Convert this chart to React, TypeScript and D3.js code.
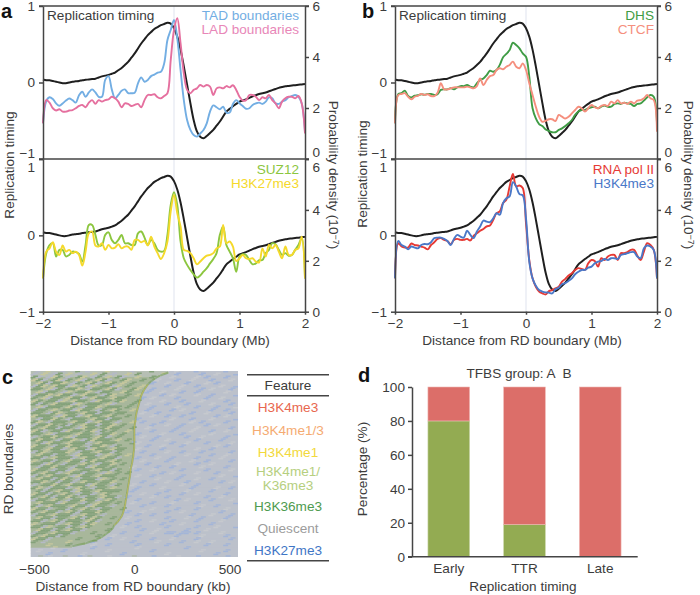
import React, { useEffect, useRef } from "react";
import * as d3 from "d3";

// distance grid for all profile curves, Mb
const distanceMb = d3.range(81).map(i => -2 + i * 0.05);

const replicationTiming = [0.04,0.03,0.03,0.02,0.01,0,-0.01,-0.01,0,0.01,0.015,0.02,0.03,0.035,0.04,0.045,0.05,0.065,0.08,0.09,0.1,0.115,0.13,0.16,0.19,0.23,0.27,0.325,0.38,0.445,0.51,0.565,0.62,0.66,0.7,0.725,0.75,0.765,0.78,0.77,0.71,0.6,0.43,0.21,-0.03,-0.27,-0.49,-0.64,-0.71,-0.73,-0.7,-0.66,-0.62,-0.565,-0.51,-0.445,-0.38,-0.345,-0.31,-0.28,-0.25,-0.235,-0.22,-0.2,-0.18,-0.165,-0.15,-0.14,-0.13,-0.115,-0.1,-0.085,-0.07,-0.06,-0.05,-0.045,-0.04,-0.035,-0.03,-0.025,-0.02];

const tadBoundaries = [1.4,2.27,2.42,2.35,2.18,2.09,2.18,2.29,2.37,2.31,2.21,2.5,2.64,2.44,2.61,2.73,2.61,2.44,2.44,3.1,3.25,2.73,2.38,2.51,2.68,2.73,2.58,2.58,2.6,2.97,3.2,3.03,3.1,3.25,3.31,3.39,3.42,3.75,4.67,5.06,5.45,4.73,3.49,2.31,1.53,1.14,0.94,0.88,1,1.14,1.4,1.86,2.1,2.03,1.95,2.05,1.82,1.82,2.16,2.31,2.18,2.08,1.97,1.99,2.12,2.18,2.21,2.16,2.25,2.42,2.38,2.18,2.16,2.25,2.31,2.42,2.47,2.51,2.44,2.18,1.07];
const ladBoundaries = [1.4,2.31,2.21,1.99,1.9,1.95,1.86,1.86,1.9,1.92,1.99,2.08,2.12,2.03,2.21,2.31,2.16,2.31,2.25,2.31,2.34,2.44,2.38,2.25,2.03,2.18,2.16,2.08,2.12,2.16,2.03,2.31,2.51,2.51,2.54,2.42,2.38,2.47,2.58,3.88,5.06,5.52,4.54,3.36,2.71,2.58,2.71,2.77,2.9,2.84,2.9,2.84,2.51,2.77,2.81,2.77,2.86,2.81,2.89,2.71,2.44,2.29,2.31,2.51,2.51,2.44,2.31,2.42,2.38,2.51,2.31,2.18,1.99,2.25,2.38,2.44,2.44,2.38,2.47,2.18,1];
const suz12 = [1.31,2.3,2.62,2.69,2.17,2.43,2.43,2.17,2.23,2.36,2.34,2.27,1.97,2.62,3.41,3.41,3.02,2.6,2.62,3.02,3.12,2.82,2.69,2.82,3.02,2.69,2.69,2.62,2.62,3.08,3.15,2.91,2.62,2.82,2.69,2.43,2.36,2.39,3.02,4.2,4.7,4.2,2.76,2.1,1.84,1.64,1.47,1.34,1.42,1.57,1.71,1.9,2.07,2.3,3.02,3.35,2.62,2.36,2.1,1.57,2.17,2.26,2.23,2.03,1.86,1.9,2.03,2.03,2.3,2.43,2.69,2.65,2.43,2.23,2.3,2.2,2.23,2.43,2.62,2.89,1.31];
const h3k27me3 = [1.31,2.36,2.49,2.73,2.36,2.23,2.6,2.36,2.43,2.3,2.36,2.23,1.81,2.36,3.08,3.15,2.6,2.56,2.69,2.43,2.62,2.49,2.52,2.65,2.49,2.56,2.56,2.43,2.82,2.82,2.73,2.78,2.6,2.95,2.56,2.3,2.07,2.3,2.76,3.94,4.59,3.87,3.35,2.43,2.39,2.3,2.1,1.86,1.97,2.1,2.2,2.23,2.3,2.49,2.56,3.41,2.69,2.76,2.56,1.99,2.1,2.23,2.1,2.07,2.1,1.97,1.94,2.49,2.17,2.62,2.49,2.62,2.36,2.1,2.56,2.23,2.23,2.43,2.49,2.95,1.31];
const dhs = [1.4,2.54,2.58,2.68,2.47,2.41,2.48,2.5,2.54,2.52,2.55,2.55,2.51,2.54,2.71,2.73,2.73,2.78,2.73,2.81,2.86,2.86,2.9,2.84,2.81,2.97,3.1,3.16,3.29,3.46,3.42,3.49,3.69,3.99,4.12,4.27,4.56,4.47,4.34,4.14,4.01,3.23,1.99,1.59,1.37,1.29,1.16,1.1,1.05,1.05,1.14,1.2,1.29,1.4,1.53,1.73,1.86,1.92,1.92,1.99,2.03,2.05,1.99,2.05,2.1,2.05,2.05,2.16,2.18,2.16,2.21,2.18,2.16,2.08,2.16,2.18,2.29,2.42,2.51,2.44,1.4];
const ctcf = [1.4,2.51,2.55,2.58,2.44,2.34,2.44,2.48,2.55,2.51,2.54,2.47,2.47,2.6,2.97,2.73,2.73,2.77,2.81,2.81,2.81,2.81,2.84,2.81,2.77,2.86,3.16,2.9,3.1,3.25,3.29,3.49,3.56,3.52,3.62,3.69,3.82,3.62,3.56,3.75,3.49,2.97,2.51,2.05,1.66,1.46,1.5,1.56,1.56,1.49,1.73,1.66,1.59,1.66,1.79,1.92,2.05,1.99,1.86,1.99,2.12,2.03,1.99,2.08,2.12,2.08,2.25,2.18,2.31,2.18,2.21,2.16,2.25,2.18,2.29,2.31,2.38,2.51,2.38,2.31,1.07];
const rnaPol2 = [1.31,2.69,2.56,2.52,2.52,2.68,2.62,2.6,2.56,2.52,2.45,2.62,2.73,2.86,2.89,2.82,2.78,2.65,2.82,2.86,2.82,2.82,2.86,2.8,2.98,3.08,3.18,3.25,3.35,3.39,3.61,3.87,3.94,4.27,4.4,4.92,5.41,4.92,4.96,4.86,3.48,2.03,1.31,0.98,0.79,0.72,0.68,0.81,0.85,0.92,0.98,1.18,1.29,1.42,1.51,1.64,1.71,1.68,1.64,1.9,2.03,1.99,1.77,2.1,2.03,2.17,2.23,2.23,2.03,2.3,2.3,2.34,2.43,2.43,2.2,2.03,2.36,2.69,2.62,2.43,1.31];
const h3k4me3 = [1.31,2.78,2.62,2.56,2.45,2.56,2.52,2.49,2.62,2.66,2.65,2.73,2.89,2.91,2.91,2.86,2.78,2.62,2.86,3.02,2.95,2.91,3.18,3.02,2.89,3.15,3.35,3.58,3.54,3.52,3.67,3.87,3.81,4.27,4.46,4.53,5.09,4.92,4.62,4.57,3.67,1.97,1.31,1.02,0.85,0.79,0.76,0.75,0.72,0.88,0.94,1.08,1.12,1.21,1.31,1.47,1.57,1.64,1.64,1.73,1.77,1.9,1.97,1.99,2.07,2.03,2.1,2.1,2.07,2.23,2.26,2.3,2.34,2.34,2.17,2.1,2.49,2.6,2.56,2.43,1.31];

// panel c: where the early domain ends on each row, kb
const boundaryKb = [165,125,100,80,65,55,45,38,32,28,24,20,16,12,9,7,5,3,1,0,0,0,0,0,-1,-1,-2,-4,-5,-8,-10,-13,-17,-19,-20,-22,-25,-27,-30,-32,-34,-37,-39,-42,-44,-47,-51,-55,-61,-71,-82,-97,-104,-118,-138,-158,-190,-235,-300,-500,-500,-500];
const stateRows = [
  "030200300103000200003000100002000100000100",
  "302031020300201030020100002001000010020001",
  "130321030120310201300200100020000201000100",
  "213012310231021300120010020001002000100020",
  "021311203102130210201000100200010002010000",
  "312021132013201132010020000100200100002001",
  "110231011203110213001200100002000010200010",
  "023110320112031100210001002000100100000200",
  "311202113021103120010200001020000200100001",
  "102311021130211021100010200001000001002000",
  "210113202110321101200100002000100020000100",
  "131021113201110230001002000100010000200010",
  "023111021031120111010000100002000100010002",
  "311020113211031021002001000010200000100100",
  "110312011021131101100020010000001002000010",
  "211103211302110210010000200100100000010200",
  "031121031110211311000100000020001000200001",
  "120311102113021103002010001000002010000100",
  "311210131021131120100000100200100001020000",
  "102113110321101211001002000001000200000010",
  "213011321101231010020000100010002000100200",
  "110231110211031120100100002000100000200001",
  "301121023111021301000020010000010020000100",
  "121103112031211102010000100200000100001000",
  "013211021113021110001200000010020001000020",
  "211031121103112031000001002000100000020100",
  "110211302113211021100200001000000200100000",
  "312011120311021131000010000200100010000010",
  "021131103211130201020000100000020000100200",
  "113021113021102113000100020010000100002000",
  "201131021131211021000020000100002001000010",
  "113210311021031120100001000002000100200000",
  "031121103113211010002000010010000020000100",
  "211031132011021131000100200000100001000020",
  "102113021131103201010000001020000200010000",
  "310211103211021110000200100000100000002001",
  "021131210311132010100000020001000200100000",
  "112013113021101120000010000200010000001020",
  "301121021113211031002000100000200100000000",
  "120311130210311020000100002000001000020010",
  "013102113211021111001000000100020000100000",
  "211310210311302100000020010000100200000100",
  "102131121031102113010000200100000001002000",
  "311021031121130210000100000001020000100020",
  "021113211031021101002000100020000100000001",
  "130211102113211030000010000100000020010000",
  "211301131021031100100000200001000100000200",
  "102113021311121000010020000100200000001000",
  "311021113021103000000100100000001000200010",
  "021131102131210010020000000100020010000100",
  "113021311102130000000100200010000100002000",
  "201113021131200100010000001000200000100000",
  "113201131021000000200100000100000100020001",
  "021131021130000100000010020000010002000000",
  "311021113000100000100000200110110100002000",
  "102113100000010020000100000001000020000100",
  "211300000100000100200000100020000100000010",
  "103000020000100000001000020000100200200000",
  "000200010000200100000100000100000001000100",
  "000020000000100000000200000000010000000000",
  "020000100000000200000000100000000020000100",
  "000100000020000000100000000200000000010000",
];

const featureRows = [
  { label: ["H3K4me3"], color: "#e8674f" },
  { label: ["H3K4me1/3"], color: "#f5ab72" },
  { label: ["H3K4me1"], color: "#f2d93c" },
  { label: ["H3K4me1/", "K36me3"], color: "#b6cf7f" },
  { label: ["H3K36me3"], color: "#4f9b50" },
  { label: ["Quiescent"], color: "#9c9c9c" },
  { label: ["H3K27me3"], color: "#3f76c6" },
];

const timingGroups = ["Early", "TTR", "Late"];
const groupA = [80, 19, 0];
const groupB = [20, 81, 100];

const FONT = "'Liberation Sans', Arial, sans-serif";
const INK = "#3c3c3c";
const AXIS = "#454545";
const FS = 13.6;

const profilePanels = [
  { left: 43, top: 6, bottom: 159, xAxis: false, nameRight: 299, names: ["TAD boundaries", "LAD boundaries"], series: [tadBoundaries, ladBoundaries], colors: ["#73aee3", "#e5709f"], labelColors: ["#73aee3", "#e887b8"], caption: true },
  { left: 43, top: 159, bottom: 311.7, xAxis: true, nameRight: 299, names: ["SUZ12", "H3K27me3"], series: [suz12, h3k27me3], colors: ["#8cc63f", "#f5d92b"], labelColors: ["#8cc63f", "#f5d92b"], caption: false },
  { left: 395, top: 6, bottom: 159, xAxis: false, nameRight: 654, names: ["DHS", "CTCF"], series: [dhs, ctcf], colors: ["#3f9c45", "#f58f7e"], labelColors: ["#3f9c45", "#f58f7e"], caption: true },
  { left: 395, top: 159, bottom: 311.7, xAxis: true, nameRight: 654, names: ["RNA pol II", "H3K4me3"], series: [rnaPol2, h3k4me3], colors: ["#e63a35", "#4a78c8"], labelColors: ["#e63a35", "#4a78c8"], caption: false },
];

function styleAxis(g: any) {
  g.selectAll("path,line").attr("stroke", AXIS).attr("stroke-width", 1.5);
  g.selectAll("text").attr("fill", INK).style("font-family", FONT).style("font-size", FS + "px");
}

function label(svg: any, text: string, x: number, y: number, anchor = "middle", fill = INK, rotate = 0) {
  return svg.append("text")
    .attr("transform", `translate(${x},${y}) rotate(${rotate})`)
    .attr("text-anchor", anchor)
    .attr("fill", fill)
    .style("font-family", FONT)
    .style("font-size", FS + "px")
    .text(text);
}

const signed = (d: any) => (d < 0 ? "\u2212" + -d : String(d));

function drawProfile(svg: any, p: any) {
  const w = 262;
  const x = d3.scaleLinear().domain([-2, 2]).range([p.left, p.left + w]);
  const yLeft = d3.scaleLinear().domain([-1, 1]).range([p.bottom, p.top]);
  const yRight = d3.scaleLinear().domain([0, 6]).range([p.bottom, p.top]);

  svg.append("line").attr("x1", x(0)).attr("x2", x(0)).attr("y1", p.top).attr("y2", p.bottom)
    .attr("stroke", "#dfe3ee").attr("stroke-width", 1);

  const rtLine = d3.line<number>().x((_, i) => x(distanceMb[i])).y(d => yLeft(d)).curve(d3.curveCatmullRom);
  svg.append("path").attr("d", rtLine(replicationTiming)).attr("fill", "none").attr("stroke", "#1f1f1f").attr("stroke-width", 2);

  const densityLine = d3.line<number>().x((_, i) => x(distanceMb[i])).y(d => yRight(d)).curve(d3.curveCatmullRom);
  p.series.forEach((s: number[], i: number) => {
    svg.append("path").attr("d", densityLine(s)).attr("fill", "none").attr("stroke", p.colors[i]).attr("stroke-width", 1.9);
  });

  const gl = svg.append("g").attr("transform", `translate(${p.left},0)`)
    .call(d3.axisLeft(yLeft).tickValues([-1, 0, 1]).tickSize(4).tickSizeOuter(0).tickPadding(4).tickFormat(signed));
  styleAxis(gl);
  const gr = svg.append("g").attr("transform", `translate(${p.left + w},0)`)
    .call(d3.axisRight(yRight).tickValues([0, 2, 4, 6]).tickSize(4).tickSizeOuter(0).tickPadding(3.5).tickFormat(signed));
  styleAxis(gr);

  // labels at the join between panels are pushed clear of the shared rule
  if (!p.xAxis) {
    gl.selectAll(".tick").filter((d: number) => d === -1).select("text").attr("dy", "-0.1em");
    gr.selectAll(".tick").filter((d: number) => d === 0).select("text").attr("dy", "-0.2em");
  } else {
    gl.selectAll(".tick").filter((d: number) => d === 1).select("text").attr("dy", "0.95em");
    gr.selectAll(".tick").filter((d: number) => d === 6).select("text").attr("dy", "0.95em");
  }

  svg.append("line").attr("x1", p.left - 4).attr("x2", p.left + w + 4).attr("y1", p.top).attr("y2", p.top).attr("stroke", AXIS).attr("stroke-width", 1.5);

  if (p.xAxis) {
    const gx = svg.append("g").attr("transform", `translate(0,${p.bottom})`)
      .call(d3.axisBottom(x).tickValues([-2, -1, 0, 1, 2]).tickSize(3).tickSizeOuter(0).tickPadding(4).tickFormat(signed));
    styleAxis(gx);
    label(svg, "Distance from RD boundary (Mb)", p.left + w / 2 - 4, 345);
  }

  if (p.caption) label(svg, "Replication timing", p.left + 4, 20, "start");
  const first = p.top + (p.xAxis ? 14.5 : 13.5);
  p.names.forEach((n: string, i: number) => {
    label(svg, n, p.nameRight, first + i * 14.8, "end", p.labelColors[i]);
  });
}

function drawHeatmap(svg: any) {
  const x = d3.scaleLinear().domain([-500, 500]).range([30.7, 238]);
  const rows = d3.scaleBand<number>().domain(d3.range(stateRows.length)).range([371, 556.7]);
  const cols = d3.scaleBand<number>().domain(d3.range(42)).range([x(-500), x(500)]);
  const leftPalette = ["", "#84a27a", "#c6c79e", "#b5bac6"];
  const rightPalette = ["", "#a3b5d8", "#c6c9ce", "#aeb8aa"];

  svg.append("defs").append("filter").attr("id", "soften")
    .append("feGaussianBlur").attr("stdDeviation", 0.45);

  const g = svg.append("g").attr("filter", "url(#soften)");
  stateRows.forEach((row, r) => {
    const edge = x(boundaryKb[r]);
    const y = rows(r);
    const h = rows.bandwidth();
    g.append("rect").attr("x", x(-500)).attr("y", y).attr("width", edge - x(-500)).attr("height", h + 0.3).attr("fill", r < 2 ? "#b6bfb4" : "#a8b79b");
    g.append("rect").attr("x", edge).attr("y", y).attr("width", x(500) - edge).attr("height", h + 0.3).attr("fill", "#bcc1cb");
    // each row is two scan lines: its own reading, then the next row's half a cell along
    const next = stateRows[(r + 1) % stateRows.length];
    [row, next].forEach((line, k) => {
      line.split("").forEach((c, i) => {
        const state = +c;
        if (!state) return;
        const cx = cols(i) + (k ? cols.bandwidth() / 2 : 0);
        if (cx + cols.bandwidth() > x(500)) return;
        const left = cx + cols.bandwidth() / 2 < edge;
        g.append("rect").attr("x", cx).attr("y", y + (k * h) / 2).attr("width", cols.bandwidth()).attr("height", h / 2)
          .attr("fill", left ? leftPalette[state] : rightPalette[state]);
      });
    });
  });

  const edgeLine = d3.line<number>().x(d => x(d)).y((_, r) => rows(r) + rows.bandwidth() / 2);
  const visible = boundaryKb.slice(0, 59);
  svg.append("path").attr("d", edgeLine(visible)).attr("fill", "none").attr("stroke", "#6f9a4c").attr("stroke-width", 2).attr("opacity", 0.55);
  svg.append("path").attr("d", edgeLine(visible.slice(4, 52))).attr("transform", `translate(0,${rows.step() * 4})`).attr("fill", "none").attr("stroke", "#c8bb52").attr("stroke-width", 0.8);

  const gx = svg.append("g").attr("transform", "translate(0,557)")
    .call(d3.axisBottom(x).tickValues([-500, 0, 500]).tickSize(0).tickPadding(7).tickFormat(signed));
  styleAxis(gx);
  gx.select(".domain").remove();
  gx.selectAll(".tick").filter((d: number) => d === -500).select("text").attr("dx", 3.3);
  gx.selectAll(".tick").filter((d: number) => d === 500).select("text").attr("dx", -8.5);

  label(svg, "Distance from RD boundary (kb)", 133, 591);
  label(svg, "RD boundaries", 12.5, 469, "middle", INK, -90);

  // state legend table
  [374.7, 395.7, 560.7].forEach(y => {
    svg.append("line").attr("x1", 247).attr("x2", 329).attr("y1", y).attr("y2", y).attr("stroke", AXIS).attr("stroke-width", 1.6);
  });
  label(svg, "Feature", 288, 390);
  const baselines = [[412], [434.5], [456.5], [475.5, 490], [510.5], [532.5], [554.5]];
  featureRows.forEach((f, i) => {
    f.label.forEach((t, j) => label(svg, t, 288, baselines[i][j], "middle", f.color));
  });
}

function drawBars(svg: any) {
  const x = d3.scaleBand().domain(timingGroups).range([410.9, 638.1]).paddingInner(0.45).paddingOuter(0.225);
  const y = d3.scaleLinear().domain([0, 100]).range([556.7, 387]);
  const stack = d3.stack<any>().keys(["a", "b"])(timingGroups.map((t, i) => ({ t, a: groupA[i], b: groupB[i] })));
  const fills = ["#93ab52", "#dc6e69"];
  const edges = ["#c9d4a6", "#efb6b3"];
  stack.forEach((layer, k) => {
    svg.append("g").selectAll("rect").data(layer).join("rect")
      .attr("x", (d: any) => x(d.data.t))
      .attr("width", x.bandwidth())
      .attr("y", (d: any) => y(d[1]))
      .attr("height", (d: any) => y(d[0]) - y(d[1]))
      .attr("fill", fills[k])
      .attr("stroke", edges[k])
      .attr("stroke-width", 0.6);
  });

  const gy = svg.append("g").attr("transform", "translate(412,0)")
    .call(d3.axisLeft(y).tickValues([0, 20, 40, 60, 80, 100]).tickSize(4).tickSizeOuter(0).tickPadding(3));
  styleAxis(gy);
  const gx = svg.append("g").attr("transform", "translate(0,556.7)")
    .call(d3.axisBottom(x).tickSize(0).tickPadding(7));
  styleAxis(gx);
  gx.select(".domain").remove();
  svg.append("line").attr("x1", 408).attr("x2", 637.7).attr("y1", 556.7).attr("y2", 556.7).attr("stroke", AXIS).attr("stroke-width", 1.5);

  label(svg, "TFBS group: A  B", 519, 378).style("white-space", "pre");
  label(svg, "Replication timing", 523, 591);
  label(svg, "Percentage (%)", 367, 469, "middle", INK, -90);
}

export default function App() {
  const ref = useRef<SVGSVGElement>(null);
  useEffect(() => {
    const svg = d3.select(ref.current);
    svg.selectAll("*").remove();
    profilePanels.forEach(p => drawProfile(svg, p));

    label(svg, "Replication timing", 14, 165, "middle", INK, -90);
    label(svg, "Replication timing", 367, 174, "middle", INK, -90);
    const density = (lx: number) => {
      const t = label(svg, "", lx, 175, "middle", INK, 90);
      t.append("tspan").text("Probability density (10");
      t.append("tspan").attr("dy", -4).style("font-size", "9px").text("\u22127");
      t.append("tspan").attr("dy", 4).text(")");
    };
    density(329);
    density(684);

    drawHeatmap(svg);
    drawBars(svg);

    [["a", 1, 18], ["b", 362, 18], ["c", 2, 384], ["d", 358, 382]].forEach(([t, lx, ly]) => {
      svg.append("text").attr("x", lx).attr("y", ly).attr("fill", "#111").style("font-family", FONT).style("font-weight", "bold").style("font-size", "20px").text(t as string);
    });
  }, []);

  return <svg ref={ref} width={700} height={595} style={{ position: "absolute", left: 0, top: 0, background: "#fff" }} />;
}
